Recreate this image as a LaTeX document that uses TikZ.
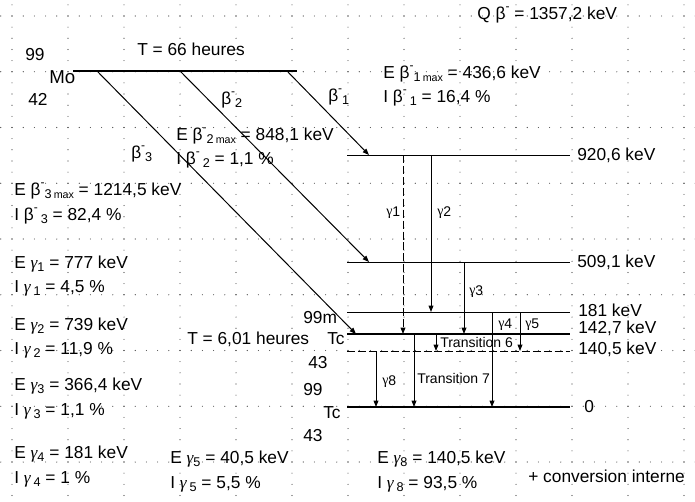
\documentclass[tikz,border=0pt]{standalone}
\usepackage{fontspec}
\setmainfont{Liberation Sans}
\newfontfamily\grk{Liberation Serif}
\usetikzlibrary{arrows.meta}
\newcommand\mysub[1]{\raisebox{-0.22em}{\fontsize{9.5}{10}\selectfont #1}}
\newcommand\mysubm[1]{\raisebox{-0.22em}{\fontsize{9.5}{10}\selectfont #1\,{\fontsize{8}{9}\selectfont max}}}
\newcommand\mysup{\raisebox{0.5em}{\fontsize{9}{10}\selectfont -}}
\newcommand\bmx[1]{β\mysup\mysub{#1}}
\newcommand\bmm[1]{β\mysup\mysubm{#1}}
\newcommand\bsp[1]{β\mysup\,\mysub{#1}}
\newcommand\gi[1]{{\grk\itshape γ}\mysub{#1}}
\newcommand\gis[1]{{\grk\itshape γ}\,\mysub{#1}}
\newcommand\gu[1]{{\grk γ}\raisebox{-0.1em}{#1}}
\begin{document}
\begin{tikzpicture}[x=0.75pt,y=-0.75pt,
  txt/.style={anchor=base west, inner sep=0pt, font=\fontsize{13}{15}\selectfont},
  sml/.style={anchor=base west, inner sep=0pt, font=\fontsize{10.5}{12}\selectfont},
  lvl/.style={line width=0.75pt},
  thk/.style={line width=2.2pt},
  dsh/.style={line width=0.75pt, dash pattern=on 6pt off 2.2pt},
  arr/.style={line width=0.75pt, -{Triangle[length=4.8pt,width=3.6pt]}},
  dotc/.style={fill=black!75}]
\useasboundingbox (0,0) rectangle (695,501);
\fill[white] (0,0) rectangle (695,501);
% dot grid
\foreach \k in {0,...,8}{
  \foreach \j in {0,...,62}{
    \fill[dotc] ({0.8+11.2*\j},{16+55.75*\k}) circle[radius=0.42pt];
  }
}
\foreach \k in {0,...,12}{
  \foreach \j in {0,...,44}{
    \fill[dotc] ({12+56*\k},{4.85+11.15*\j}) circle[radius=0.42pt];
  }
}
% coordinates
\coordinate (moL) at (73,71);   \coordinate (moR) at (297,71);
\coordinate (b1s) at (287,71);  \coordinate (b1e) at (369,155);
\coordinate (b2s) at (180,71);  \coordinate (b2e) at (369,262);
\coordinate (b3s) at (97,71);   \coordinate (b3e) at (356,334);
\coordinate (l920L) at (347,155); \coordinate (l920R) at (570,155);
\coordinate (l509L) at (347,262); \coordinate (l509R) at (570,262);
\coordinate (l181L) at (347,312); \coordinate (l181R) at (570,312);
\coordinate (l142L) at (347,334); \coordinate (l142R) at (570,334);
\coordinate (l140L) at (347,351); \coordinate (l140R) at (570,351);
\coordinate (l0L) at (347,407);   \coordinate (l0R) at (570,407);
% levels
\draw[thk] (moL) -- (moR);
\draw[lvl] (l920L) -- (l920R);
\draw[lvl] (l509L) -- (l509R);
\draw[lvl] (l181L) -- (l181R);
\draw[thk] (l142L) -- (l142R);
\draw[dsh] (l140L) -- (l140R);
\draw[thk] (l0L) -- (l0R);
% beta transitions
\draw[arr] (b1s) -- (b1e);
\draw[arr] (b2s) -- (b2e);
\draw[arr] (b3s) -- (b3e);
% gamma transitions
\coordinate (g1s) at (403,155); \coordinate (g1e) at (403,334);
\coordinate (g2s) at (431,155); \coordinate (g2e) at (431,312);
\coordinate (g3s) at (464,262); \coordinate (g3e) at (464,334);
\coordinate (g4s) at (492,312); \coordinate (g4e) at (492,407);
\coordinate (g5s) at (520,312); \coordinate (g5e) at (520,351);
\coordinate (t6s) at (436,334); \coordinate (t6e) at (436,351);
\coordinate (g8s) at (376,351); \coordinate (g8e) at (376,407);
\coordinate (t7s) at (414,334); \coordinate (t7e) at (414,407);
\draw[arr, dash pattern=on 6pt off 2.2pt] (g1s) -- (g1e);
\draw[arr] (g2s) -- (g2e);
\draw[arr] (g3s) -- (g3e);
\draw[arr] (g4s) -- (g4e);
\draw[arr] (g5s) -- (g5e);
\draw[arr] (t6s) -- (t6e);
\draw[arr] (g8s) -- (g8e);
\draw[arr] (t7s) -- (t7e);
% transition labels
\node[sml] (lg1) at (386,215) {\gu{1}};
\node[sml] (lg2) at (437,215) {\gu{2}};
\node[sml] (lg3) at (469,294) {\gu{3}};
\node[sml] (lg4) at (498,327) {\gu{4}};
\node[sml] (lg5) at (525,327) {\gu{5}};
\node[sml] (lt6) at (440,347) {Transition 6};
\node[sml] (lg8) at (382,384) {\gu{8}};
\node[sml] (lt7) at (417,383) {Transition 7};
\node[txt] (lb1) at (328,101) {\bmx{1}};
\node[txt] (lb2) at (221,104) {\bmx{2}};
\node[txt] (lb3) at (131,158) {\bmx{3}};
% level labels
\node[txt] (e920) at (577,160) {920,6 keV};
\node[txt] (e509) at (577,267) {509,1 keV};
\node[txt] (e181) at (578,316) {181 keV};
\node[txt] (e142) at (578,333) {142,7 keV};
\node[txt] (e140) at (578,354) {140,5 keV};
\node[txt] (e0) at (584,412) {0};
% nuclide labels
\node[txt] (moA) at (25,60) {99};
\node[txt] (mo) at (49,83) {\fontsize{14}{16}\selectfont Mo};
\node[txt] (moZ) at (28,105) {42};
\node[txt] (moT) at (137,55) {T = 66 heures};
\node[txt] (tcmA) at (303,323) {99m};
\node[txt] (tcm) at (327,344) {Tc};
\node[txt] (tcmT) at (187,344) {T = 6,01 heures};
\node[txt] (tcmZ) at (308,368) {43};
\node[txt] (tcA) at (303,395) {99};
\node[txt] (tc) at (323,418) {Tc};
\node[txt] (tcZ) at (303,441) {43};
% data
\node[txt] (q) at (477,19) {Q β\mysup{} = 1357,2 keV};
\node[txt] (eb1) at (383,78) {E \bmm{1} = 436,6 keV};
\node[txt] (ib1) at (383,102) {I \bsp{1} = 16,4 \%};
\node[txt] (eb2) at (176,140) {E \bmm{2} = 848,1 keV};
\node[txt] (ib2) at (176,164) {I \bsp{2} = 1,1 \%};
\node[txt] (eb3) at (14,195) {E \bmm{3} = 1214,5 keV};
\node[txt] (ib3) at (14,220) {I \bsp{3} = 82,4 \%};
\node[txt] (eg1) at (14,268) {E \gi{1} = 777 keV};
\node[txt] (ig1) at (14,292) {I \gis{1} = 4,5 \%};
\node[txt] (eg2) at (14,330) {E \gi{2} = 739 keV};
\node[txt] (ig2) at (14,354) {I \gis{2} = 11,9 \%};
\node[txt] (eg3) at (14,390) {E \gi{3} = 366,4 keV};
\node[txt] (ig3) at (14,415) {I \gis{3} = 1,1 \%};
\node[txt] (eg4) at (14,458) {E \gi{4} = 181 keV};
\node[txt] (ig4) at (14,483) {I \gis{4} = 1 \%};
\node[txt] (eg5) at (170,463) {E \gi{5} = 40,5 keV};
\node[txt] (ig5) at (170,488) {I \gis{5} = 5,5 \%};
\node[txt] (eg8) at (377,463) {E \gi{8} = 140,5 keV};
\node[txt] (ig8) at (377,488) {I \gis{8} = 93,5 \%};
\node[txt] (ci) at (528,482) {+ conversion interne};
\end{tikzpicture}
\end{document}
